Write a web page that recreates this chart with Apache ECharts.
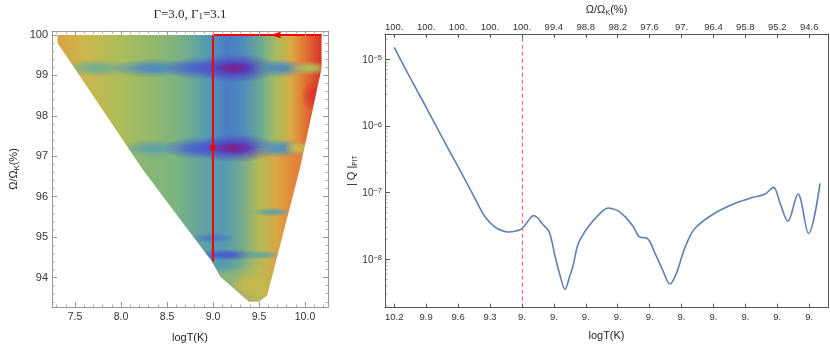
<!DOCTYPE html>
<html>
<head>
<meta charset="utf-8">
<script src="https://cdn.jsdelivr.net/npm/echarts@6/dist/echarts.min.js"></script>
<style>
  html, body { margin: 0; padding: 0; background: #fff; }
  #chart { width: 830px; height: 344px; }
</style>
</head>
<body>
<div id="chart"></div>
<script>
// ---- left panel: density map over (logT, Ω/ΩK) ----
// colour level (0 = purple, 1 = red) across logT, upper and lower half of the map
const bgTopX = [7.30, 7.60, 8.00, 8.40, 8.70, 8.95, 9.15, 9.35, 9.55, 9.70, 9.85, 10.00, 10.20]
const bgTopLevel = [0.77, 0.68, 0.60, 0.53, 0.46, 0.36, 0.27, 0.33, 0.46, 0.60, 0.74, 0.88, 1.00]
const bgLowX = [8.20, 8.60, 8.90, 9.10, 9.30, 9.50, 9.70, 9.90]
const bgLowLevel = [0.52, 0.48, 0.40, 0.36, 0.44, 0.62, 0.76, 0.85]
const bgSplitY = 97.2
// spots of the map: [logT, Ω/ΩK, half width, half height, level]
const spots = [
  [9.40, 93.80, 0.35, 0.55, 0.66],
  [9.10, 93.95, 0.22, 0.35, 0.52],
  [10.10, 98.50, 0.15, 0.40, 0.98],
  [7.75, 99.18, 0.45, 0.22, 0.46],
  [8.35, 99.18, 0.45, 0.24, 0.32],
  [8.85, 99.18, 0.40, 0.28, 0.20],
  [9.25, 99.18, 0.45, 0.36, 0.10],
  [9.22, 99.18, 0.22, 0.16, 0.00],
  [9.72, 99.18, 0.30, 0.24, 0.32],
  [10.05, 99.18, 0.22, 0.18, 0.60],
  [8.35, 97.20, 0.35, 0.22, 0.40],
  [8.85, 97.20, 0.40, 0.28, 0.20],
  [9.25, 97.20, 0.45, 0.36, 0.10],
  [9.22, 97.20, 0.22, 0.16, 0.00],
  [9.72, 97.20, 0.30, 0.24, 0.34],
  [9.92, 97.20, 0.14, 0.18, 0.70],
  [9.00, 94.97, 0.26, 0.14, 0.28],
  [9.15, 94.56, 0.35, 0.15, 0.18],
  [9.50, 94.56, 0.28, 0.12, 0.42],
  [9.65, 95.62, 0.24, 0.11, 0.40]
]
// outline of the computed region
const edgeX = [7.31, 7.31, 8.24, 8.99, 9.08, 9.39, 9.50, 9.59, 9.95, 10.18, 10.18]
const edgeY = [100.0, 99.8, 96.66, 94.39, 94.02, 93.40, 93.40, 93.56, 96.75, 99.17, 100.0]
// red path and its arrows
const pathX = [10.18, 9.0, 9.0]
const pathY = [100.0, 100.0, 94.39]
const arrowX = [9.68, 9.0]
const arrowY = [100.0, 97.15]
const arrowDir = ['left', 'down']

// ---- right panel: |Q|_PIT along the path ----
const sVals = [0, 0.5, 1.0, 1.5, 2.0, 2.5, 2.8, 3.0, 3.2, 3.57, 3.85, 4.0, 4.2, 4.36, 4.5, 4.62, 4.85, 5.04, 5.2, 5.35,
  5.5, 5.6, 5.77, 6.08, 6.45, 6.71, 7.0, 7.23, 7.49, 7.70, 7.91, 8.17, 8.4, 8.64, 8.85, 9.01, 9.2, 9.43, 10.0, 10.63,
  11.25, 11.62, 11.88, 12.09, 12.33, 12.65, 12.98, 13.34]
const qVals = [1.51e-5, 5.25e-6, 1.91e-6, 6.76e-7, 2.45e-7, 8.71e-8, 4.68e-8, 3.55e-8, 2.95e-8, 2.57e-8, 2.69e-8, 2.88e-8,
  3.80e-8, 4.52e-8, 4.17e-8, 3.47e-8, 2.60e-8, 1.10e-8, 5.62e-9, 3.55e-9, 5.62e-9, 7.94e-9, 1.74e-8, 3.09e-8, 4.90e-8,
  5.89e-8, 5.37e-8, 4.37e-8, 3.09e-8, 2.14e-8, 2.09e-8, 1.23e-8, 7.08e-9, 4.27e-9, 6.31e-9, 1.10e-8, 1.91e-8, 2.95e-8,
  4.79e-8, 6.76e-8, 8.51e-8, 9.55e-8, 1.20e-7, 6.92e-8, 3.72e-8, 9.55e-8, 2.45e-8, 1.38e-7]
const bottomLabels = ['10.2', '9.9', '9.6', '9.3', '9.', '9.', '9.', '9.', '9.', '9.', '9.', '9.', '9.', '9.']
const topLabels = ['100.', '100.', '100.', '100.', '100.', '99.4', '98.8', '98.2', '97.6', '97.', '96.4', '95.8', '95.2', '94.6']
const markS = 4

const leftX = [7.25, 10.25]
const leftY = [93.272, 100.099]
const rightX = [-0.29, 13.59]
const rightY = [1.88e-9, 2.4e-5]

const rainbow = [
  [0.00, [124, 36, 146]], [0.10, [82, 60, 196]], [0.22, [70, 108, 206]], [0.36, [84, 152, 180]],
  [0.48, [122, 180, 128]], [0.60, [172, 188, 90]], [0.70, [212, 182, 72]], [0.82, [228, 146, 60]],
  [0.92, [226, 92, 46]], [1.00, [214, 44, 38]]
]
function levelColor(level, alpha) {
  const t = Math.max(0, Math.min(1, level))
  let i = 1
  while (i < rainbow.length - 1 && rainbow[i][0] < t) i++
  const a = rainbow[i - 1]
  const b = rainbow[i]
  const f = (t - a[0]) / (b[0] - a[0])
  const c = a[1].map((v, k) => Math.round(v + (b[1][k] - v) * f))
  return 'rgba(' + c[0] + ',' + c[1] + ',' + c[2] + ',' + alpha + ')'
}
function hGrad(api, xs, lv) {
  const a = api.coord([xs[0], 97])[0]
  const b = api.coord([xs[xs.length - 1], 97])[0]
  return {
    type: 'linear', global: true, x: a, y: 0, x2: b, y2: 0,
    colorStops: xs.map((x, i) => ({ offset: (x - xs[0]) / (xs[xs.length - 1] - xs[0]), color: levelColor(lv[i], 1) }))
  }
}

const minorLog = []
for (let n = -9; n <= -5; n++) {
  for (let k = 2; k <= 9; k++) {
    const v = k * Math.pow(10, n)
    if (v > rightY[0] && v < rightY[1]) minorLog.push([rightX[0], v])
  }
}

const labelFont = 'Liberation Sans'
const subRich = {
  s: { fontSize: 7.5, lineHeight: 8, padding: [6, 0, 0, 0], verticalAlign: 'bottom', fontFamily: labelFont, color: '#222' }
}

function frameAxis(extra) {
  return Object.assign({
    type: 'value',
    z: 10,
    splitLine: { show: false },
    axisLine: { show: true, onZero: false, lineStyle: { color: '#999', width: 1 } },
    axisTick: { show: true, inside: true, length: 5, lineStyle: { color: '#999' } },
    minorTick: { show: true, splitNumber: 5, length: 2.5, lineStyle: { color: '#aaa' } },
    axisLabel: { show: false }
  }, extra)
}

const chart = echarts.init(document.getElementById('chart'))
const option = {
  animation: false,
  backgroundColor: '#fff',
  graphic: [{
    type: 'text', x: 190, y: 15,
    style: {
      text: 'Γ=3.0, Γ{s|1}=3.1', textAlign: 'center', textVerticalAlign: 'middle',
      fontFamily: 'Liberation Serif', fontSize: 13, fill: '#222',
      rich: { s: { fontSize: 9, lineHeight: 9, padding: [7, 0, 0, 0], verticalAlign: 'bottom', fontFamily: 'Liberation Serif' } }
    }
  }],
  grid: [
    { left: 52, right: 502, top: 31, bottom: 37, outerBoundsMode: 'none', containLabel: false },
    { left: 385, right: 2, top: 34, bottom: 36.3, outerBoundsMode: 'none', containLabel: false }
  ],
  xAxis: [
    frameAxis({
      gridIndex: 0, position: 'bottom', min: leftX[0], max: leftX[1], splitNumber: 6,
      axisLabel: { show: true, fontSize: 10.5, color: '#333', margin: 5, fontFamily: labelFont,
        showMinLabel: false, showMaxLabel: false, formatter: v => v.toFixed(1) },
      name: 'logT(K)', nameLocation: 'middle', nameGap: 25,
      nameTextStyle: { fontSize: 11, color: '#222', fontFamily: labelFont }
    }),
    frameAxis({ gridIndex: 0, position: 'top', min: leftX[0], max: leftX[1], splitNumber: 6 }),
    frameAxis({
      gridIndex: 1, position: 'bottom', min: rightX[0], max: rightX[1], splitNumber: 14,
      axisLine: { show: true, onZero: false, lineStyle: { color: '#555' } },
      axisTick: { show: true, inside: true, length: 4, lineStyle: { color: '#555' } },
      minorTick: { show: false },
      axisLabel: { show: true, fontSize: 9.5, color: '#333', margin: 5, fontFamily: labelFont,
        showMinLabel: false, showMaxLabel: false, formatter: v => bottomLabels[Math.round(v)] || '' },
      name: 'logT(K)', nameLocation: 'middle', nameGap: 23,
      nameTextStyle: { fontSize: 11, color: '#222', fontFamily: labelFont }
    }),
    frameAxis({
      gridIndex: 1, position: 'top', min: rightX[0], max: rightX[1], splitNumber: 14,
      axisLine: { show: true, onZero: false, lineStyle: { color: '#555' } },
      axisTick: { show: true, inside: true, length: 4, lineStyle: { color: '#555' } },
      minorTick: { show: false },
      axisLabel: { show: true, fontSize: 9.5, color: '#333', margin: 2, fontFamily: labelFont,
        showMinLabel: false, showMaxLabel: false, formatter: v => topLabels[Math.round(v)] || '' },
      name: 'Ω/Ω{s|K}(%)', nameLocation: 'middle', nameGap: 17,
      nameTextStyle: { fontSize: 11, lineHeight: 14, color: '#222', fontFamily: labelFont, rich: subRich }
    })
  ],
  yAxis: [
    frameAxis({
      gridIndex: 0, position: 'left', min: leftY[0], max: leftY[1], splitNumber: 7,
      axisLabel: { show: true, fontSize: 11, color: '#333', margin: 4, fontFamily: labelFont,
        showMinLabel: false, showMaxLabel: false, formatter: v => String(Math.round(v)) },
      name: 'Ω/Ω{s|K}(%)', nameLocation: 'middle', nameGap: 31, nameRotate: 90,
      nameTextStyle: { fontSize: 11, lineHeight: 14, color: '#222', fontFamily: labelFont, rich: subRich }
    }),
    frameAxis({ gridIndex: 0, position: 'right', min: leftY[0], max: leftY[1], splitNumber: 7 }),
    frameAxis({
      type: 'log', logBase: 10, gridIndex: 1, position: 'left', min: rightY[0], max: rightY[1],
      axisLine: { show: true, onZero: false, lineStyle: { color: '#555' } },
      axisTick: { show: true, inside: true, length: 5, lineStyle: { color: '#555' } },
      minorTick: { show: false },
      axisLabel: {
        show: true, margin: 3, showMinLabel: false, showMaxLabel: false,
        formatter: v => '{b|10}{e|−' + (-Math.round(Math.log10(v))) + '}',
        rich: {
          b: { fontSize: 10, lineHeight: 11, verticalAlign: 'bottom', color: '#333', fontFamily: labelFont },
          e: { fontSize: 7.5, lineHeight: 8, padding: [0, 0, 7, 0], verticalAlign: 'top', color: '#333', fontFamily: labelFont }
        }
      },
      name: '| Q |{s|PIT}', nameLocation: 'middle', nameGap: 26, nameRotate: 90, nameMoveOverlap: false,
      nameTextStyle: { fontSize: 11, lineHeight: 14, color: '#222', fontFamily: labelFont,
        rich: { s: { fontSize: 6.5, lineHeight: 7, padding: [7, 0, 0, 0], verticalAlign: 'bottom', fontFamily: labelFont, color: '#222' } } }
    }),
    frameAxis({
      type: 'log', logBase: 10, gridIndex: 1, position: 'right', min: rightY[0], max: rightY[1],
      axisLine: { show: true, onZero: false, lineStyle: { color: '#555' } },
      axisTick: { show: false }, minorTick: { show: false }
    })
  ],
  series: [
    {
      // background colour of the map
      type: 'custom', xAxisIndex: 0, yAxisIndex: 0, clip: true, silent: true,
      data: [[bgSplitY]],
      renderItem: (params, api) => {
        const tl = api.coord([leftX[0], leftY[1]])
        const br = api.coord([leftX[1], leftY[0]])
        const mid = api.coord([leftX[0], bgSplitY])
        return {
          type: 'group',
          children: [
            { type: 'rect', shape: { x: tl[0], y: tl[1], width: br[0] - tl[0], height: mid[1] - tl[1] + 0.5 },
              style: { fill: hGrad(api, bgTopX, bgTopLevel) } },
            { type: 'rect', shape: { x: tl[0], y: mid[1], width: br[0] - tl[0], height: br[1] - mid[1] },
              style: { fill: hGrad(api, bgLowX, bgLowLevel) } }
          ]
        }
      }
    },
    {
      // bands and spots of the map
      type: 'custom', xAxisIndex: 0, yAxisIndex: 0, clip: true, silent: true,
      data: spots,
      renderItem: (params, api) => {
        const c = api.coord([api.value(0), api.value(1)])
        const rx = api.size([api.value(2), 0])[0]
        const ry = api.size([0, api.value(3)])[1]
        const lv = api.value(4)
        return {
          type: 'circle', x: c[0], y: c[1], scaleX: rx / ry,
          shape: { cx: 0, cy: 0, r: ry },
          style: {
            fill: {
              type: 'radial', x: 0.5, y: 0.5, r: 0.5,
              colorStops: [
                { offset: 0, color: levelColor(lv, 1) },
                { offset: 0.3, color: levelColor(lv, 0.9) },
                { offset: 0.6, color: levelColor(lv, 0.5) },
                { offset: 1, color: levelColor(lv, 0) }
              ]
            }
          }
        }
      }
    },
    {
      // white outside the computed region
      type: 'custom', xAxisIndex: 0, yAxisIndex: 0, clip: true, silent: true,
      data: [[0]],
      renderItem: (params, api) => {
        const tl = api.coord([leftX[0], leftY[1]])
        const tr = api.coord([leftX[1], leftY[1]])
        const br = api.coord([leftX[1], leftY[0]])
        const bl = api.coord([leftX[0], leftY[0]])
        const edge = edgeX.map((x, i) => api.coord([x, edgeY[i]]))
        const pts = [tl, tr, br, bl, tl].concat(edge, [edge[0]])
        return { type: 'polygon', shape: { points: pts }, style: { fill: '#fff' } }
      }
    },
    {
      type: 'line', xAxisIndex: 0, yAxisIndex: 0, silent: true,
      data: pathX.map((x, i) => [x, pathY[i]]),
      symbol: 'none', lineStyle: { color: '#ff0000', width: 2 }, z: 4
    },
    {
      type: 'custom', xAxisIndex: 0, yAxisIndex: 0, silent: true, z: 5,
      data: arrowX.map((x, i) => [x, arrowY[i], i]),
      renderItem: (params, api) => {
        const c = api.coord([api.value(0), api.value(1)])
        const dir = arrowDir[api.value(2)]
        const L = 10, W = 3.3
        const pts = dir === 'left'
          ? [[c[0] - L / 2, c[1]], [c[0] + L / 2, c[1] - W], [c[0] + L / 2, c[1] + W]]
          : [[c[0], c[1] + L / 2], [c[0] - W, c[1] - L / 2], [c[0] + W, c[1] - L / 2]]
        return { type: 'polygon', shape: { points: pts }, style: { fill: '#ff0000' } }
      }
    },
    {
      type: 'line', xAxisIndex: 2, yAxisIndex: 2, silent: true,
      data: sVals.map((s, i) => [s, qVals[i]]),
      smooth: 0.35, symbol: 'none',
      lineStyle: { color: '#5e81b5', width: 1.6 },
      markLine: {
        silent: true, symbol: 'none', label: { show: false },
        lineStyle: { color: '#f26a6a', type: [4, 3], width: 1.2 },
        data: [{ xAxis: markS }]
      }
    },
    {
      // minor ticks of the log axis
      type: 'custom', xAxisIndex: 2, yAxisIndex: 2, silent: true, z: 6,
      data: minorLog,
      renderItem: (params, api) => {
        const c = api.coord([api.value(0), api.value(1)])
        return { type: 'line', shape: { x1: c[0], y1: c[1], x2: c[0] + 3, y2: c[1] }, style: { stroke: '#bbb', lineWidth: 1 } }
      }
    }
  ]
}
chart.setOption(option)
</script>
</body>
</html>
